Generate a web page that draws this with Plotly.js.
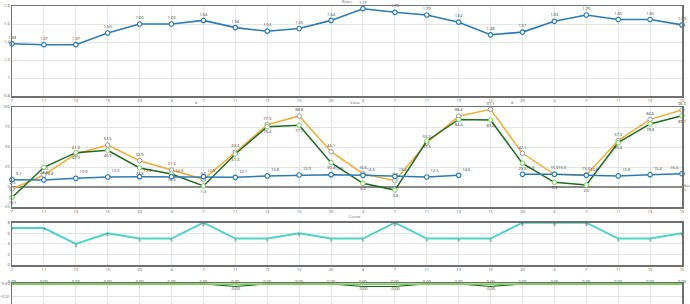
<!DOCTYPE html>
<html><head><meta charset="utf-8">
<script src="https://cdn.plot.ly/plotly-3.0.1.min.js"></script>
<style>html,body{margin:0;padding:0;overflow:hidden;background:#fff}#chart{width:690px;height:340px}</style>
</head><body><div id="chart"></div>
<script>
// ---- data ----
const categories = ["7","11","13","15","20","4","7","11","13","15","20","4","7","11","13","15","20","4","7","11","13","15"];
const ratio = [1.38,1.37,1.37,1.50,1.60,1.60,1.64,1.56,1.52,1.55,1.64,1.77,1.73,1.70,1.62,1.48,1.51,1.63,1.70,1.65,1.65,1.59];
const seriesBlue = [9.1,8.8,10.9,12.5,12.9,12.9,12.9,12.1,13.8,15.0,15.4,14.6,13.4,12.5,14.6,null,15.9,15.9,14.6,13.8,15.4,16.6];
const seriesOrange = [-2.5,15.0,41.3,52.5,32.9,21.3,9.6,43.4,77.9,88.8,44.1,16.6,7.9,55.0,88.4,97.1,42.1,15.9,15.0,57.9,84.6,96.3];
const seriesGreen = [-13.1,24.6,42.9,45.9,23.8,16.3,1.3,41.3,75.4,77.1,30.4,4.6,-3.8,57.5,84.4,83.8,29.6,5.9,2.5,55.4,78.8,89.1];
const counts = [7,7,4,6,5,5,8,5,5,6,5,5,8,5,5,5,8,8,8,5,5,6];
const deltaLight = [0,0,0,0,0,0,0,0,0,0,0,0,0,0,0,0,0,0,0,0,0,0];
const deltaDark = [0,0,0,0,0,0,0,-0.002,0,0,0,-0.002,-0.002,0,0,-0.002,0,0,0,0,0,0];
const panelTitles = ["Ratio","Value","Count"];

const xIdx = categories.map((_, i) => i);
const FONT = 'Open Sans, DejaVu Sans, sans-serif';
const tf = {family: FONT, size: 4, color: '#555'};
const lab = {family: FONT, size: 4, color: '#333'};

function xa(anchor) {
  return {anchor: anchor, range: [0, 21], tickmode: 'array', tickvals: xIdx, ticktext: categories,
    tickfont: tf, showgrid: true, gridcolor: '#e4e4e4', gridwidth: 1, showline: true, mirror: true,
    linecolor: '#707070', linewidth: 1.5, zeroline: false, ticks: '', ticklen: 0};
}
function ya(domain, range, dtick, extra) {
  return Object.assign({domain: domain, range: range, dtick: dtick, tickfont: tf, showgrid: true,
    gridcolor: '#e4e4e4', showline: true, mirror: true, linecolor: '#707070', linewidth: 1.5,
    zeroline: false, ticks: ''}, extra || {});
}
const H = 340;
const dom = (top, bot) => [1 - bot / H, 1 - top / H];

const blue = '#2a7bb5', orange = '#f0ad3a', green = '#1f6a1f', lightGreen = '#7ccf5b', teal = '#4fd3c8';
const bluePos = xIdx.map(i => i === xIdx.length - 1 ? 'top left' : 'top right');

const traces = [
  {x: xIdx, y: ratio, xaxis: 'x', yaxis: 'y', mode: 'lines+markers+text', line: {color: blue, width: 1.6},
   marker: {symbol: 'circle', size: 4.5, color: '#fff', line: {color: blue, width: 1.2}},
   text: ratio.map(v => v.toFixed(2)), textposition: 'top center', textfont: lab, cliponaxis: false},

  {x: xIdx, y: seriesOrange, xaxis: 'x2', yaxis: 'y2', mode: 'lines+markers+text', line: {color: orange, width: 1.5},
   marker: {symbol: 'circle', size: 4.5, color: '#fff', line: {color: '#9a9a9a', width: 1}},
   text: seriesOrange.map(v => v.toFixed(1)), textposition: 'top center', textfont: lab, cliponaxis: false},
  {x: xIdx, y: seriesGreen, xaxis: 'x2', yaxis: 'y2', mode: 'lines+markers+text', line: {color: green, width: 1.5},
   marker: {symbol: 'circle', size: 4.5, color: '#fff', line: {color: lightGreen, width: 1}},
   text: seriesGreen.map(v => v.toFixed(1)), textposition: 'bottom center', textfont: lab, cliponaxis: false},
  {x: xIdx, y: seriesBlue, xaxis: 'x2', yaxis: 'y2', mode: 'lines+markers+text', line: {color: blue, width: 1.5},
   marker: {symbol: 'circle', size: 4.5, color: '#fff', line: {color: blue, width: 1.2}},
   text: seriesBlue.map(v => v === null ? '' : v.toFixed(1)), textposition: bluePos, textfont: lab, cliponaxis: false},

  {x: xIdx, y: counts, xaxis: 'x3', yaxis: 'y3', mode: 'lines+text', line: {color: teal, width: 2},
   text: counts.map(String), textposition: 'bottom center', textfont: lab, cliponaxis: false},

  {x: xIdx, y: deltaDark, xaxis: 'x4', yaxis: 'y4', mode: 'lines+text', line: {color: green, width: 1.2},
   text: deltaDark.map(v => v === 0 ? '' : v.toFixed(2)), textposition: 'bottom center', textfont: lab, cliponaxis: false},
  {x: xIdx, y: deltaLight, xaxis: 'x4', yaxis: 'y4', mode: 'lines+text', line: {color: lightGreen, width: 2},
   text: deltaLight.map(v => v.toFixed(2)), textposition: 'top center', textfont: lab, cliponaxis: false}
];

const layout = {
  width: 690, height: H, margin: {l: 12, r: 8, t: 0, b: 0}, showlegend: false,
  paper_bgcolor: '#fff', plot_bgcolor: '#fff', font: {family: FONT, size: 4, color: '#555'},
  xaxis: xa('y'), xaxis2: xa('y2'), xaxis3: xa('y3'), xaxis4: xa('y4'),
  yaxis: ya(dom(6, 96), [0.8, 1.8], 0.2),
  yaxis2: ya(dom(107, 207), [-25, 100], 25, {zeroline: true, zerolinecolor: '#8a8a8a', zerolinewidth: 1.5}),
  yaxis3: ya(dom(222.7, 265), [0, 8], 2),
  yaxis4: ya(dom(283.3, 326), [-0.033, 0.0005], 0.01, {tickformat: '.2f'}),
  annotations: [
    {text: panelTitles[0], xref: 'paper', yref: 'paper', x: 0.5, y: 1 - 1.5 / H, xanchor: 'center', yanchor: 'middle', showarrow: false, font: {family: FONT, size: 4, color: '#666'}},
    {text: panelTitles[1], xref: 'paper', yref: 'paper', x: (355 - 12) / 670, y: 1 - 102 / H, xanchor: 'center', yanchor: 'middle', showarrow: false, font: {family: FONT, size: 4, color: '#666'}},
    {text: 'Δ ·', xref: 'paper', yref: 'paper', x: (197 - 12) / 670, y: 1 - 102 / H, xanchor: 'center', yanchor: 'middle', showarrow: false, font: {family: FONT, size: 4, color: '#666'}},
    {text: 'Δ ·', xref: 'paper', yref: 'paper', x: (513 - 12) / 670, y: 1 - 102 / H, xanchor: 'center', yanchor: 'middle', showarrow: false, font: {family: FONT, size: 4, color: '#666'}},
    {text: panelTitles[2], xref: 'paper', yref: 'paper', x: (355 - 12) / 670, y: 1 - 216 / H, xanchor: 'center', yanchor: 'middle', showarrow: false, font: {family: FONT, size: 4, color: '#666'}},
    {text: 'Base<br>0', xref: 'paper', yref: 'y2', x: 1.0, y: -1.5, xanchor: 'left', yanchor: 'middle', align: 'left', showarrow: false, font: {family: FONT, size: 3, color: '#666'}}
  ]
};

Plotly.newPlot('chart', traces, layout, {displayModeBar: false, staticPlot: true});
</script>
</body></html>
